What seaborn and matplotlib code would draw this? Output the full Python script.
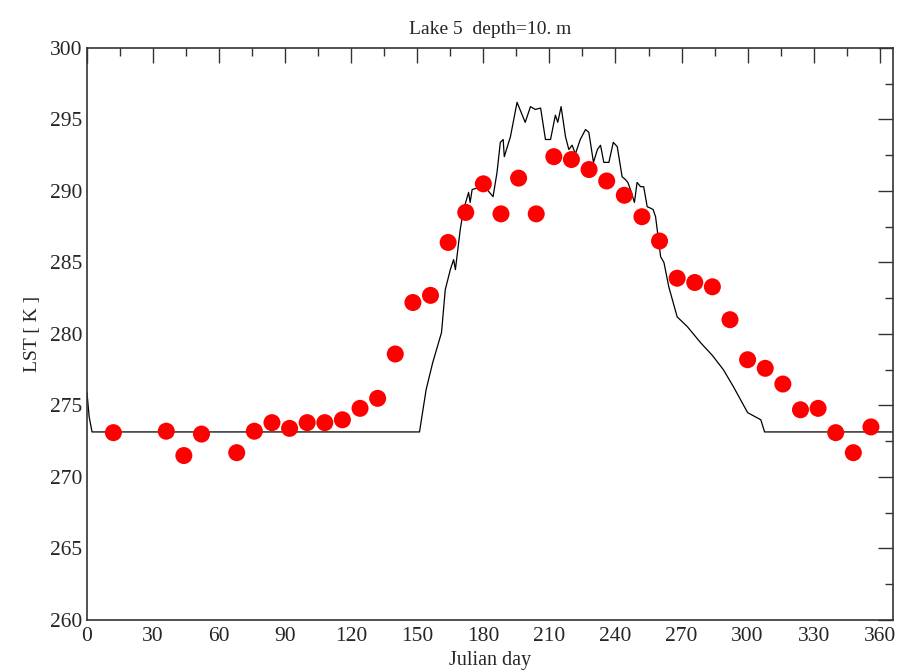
import numpy as np
import pandas as pd
import matplotlib
matplotlib.use("Agg")
import matplotlib.pyplot as plt
from matplotlib.ticker import MultipleLocator
import seaborn as sns

# observed lake surface temperature (red dots)
obs_day = [12, 36, 44, 52, 68, 76, 84, 92, 100, 108, 116, 124, 132, 140, 148, 156,
           164, 172, 180, 188, 196, 204, 212, 220, 228, 236, 244, 252, 260, 268,
           276, 284, 292, 300, 308, 316, 324, 332, 340, 348, 356]
obs_lst = [273.1, 273.2, 271.5, 273.0, 271.7, 273.2, 273.8, 273.4, 273.8, 273.8,
           274.0, 274.8, 275.5, 278.6, 282.2, 282.7, 286.4, 288.5, 290.5, 288.4,
           290.9, 288.4, 292.4, 292.2, 291.5, 290.7, 289.7, 288.2, 286.5, 283.9,
           283.6, 283.3, 281.0, 278.2, 277.6, 276.5, 274.7, 274.8, 273.1, 271.7, 273.5]

# modelled temperature (black line)
mod_day = [0, 1, 2.3, 151, 154, 157, 161, 162.7, 165, 166.5, 167.3, 169.5, 171,
           173.3, 174, 174.9, 177, 181.7, 184.4, 186.2, 187.7, 189, 189.5, 192.3,
           195.3, 199, 201.4, 203.6, 206, 208.2, 210.5, 212.7, 213.8, 215.3, 217.3,
           218.8, 220.3, 221.8, 224, 226.4, 227.9, 230, 231.8, 233.2, 234.7, 237,
           239, 240.8, 243, 244.5, 245.6, 246.8, 248.6, 249.8, 251.4, 252.8, 254.4,
           255.9, 257.1, 258.2, 260.5, 262, 264.2, 268, 272.7, 278.6, 284, 289,
           293.6, 300, 306, 307.7, 366]
mod_lst = [275.9, 274.2, 273.15, 273.15, 276.1, 278.0, 280.1, 283.1, 284.5, 285.2,
           284.5, 287.3, 288.7, 289.9, 289.2, 290.1, 290.2, 290.1, 289.6, 291.3,
           293.4, 293.6, 292.4, 293.8, 296.2, 294.8, 295.9, 295.7, 295.8, 293.6,
           293.6, 295.3, 294.8, 295.9, 293.8, 292.9, 293.2, 292.6, 293.6, 294.3,
           294.1, 292.0, 292.9, 293.2, 292.0, 292.0, 293.4, 293.1, 291.0, 290.8,
           290.6, 290.1, 289.2, 290.6, 290.3, 290.3, 288.9, 288.8, 288.7, 288.2,
           285.4, 285.0, 283.3, 281.2, 280.5, 279.4, 278.5, 277.5, 276.3, 274.5,
           274.0, 273.15, 273.15]

sns.set_style("white")
plt.rcParams['font.family'] = ['Liberation Serif', 'DejaVu Serif']

fig = plt.figure(figsize=(9.05, 6.72), dpi=100)
ax = fig.add_axes([0.0961, 0.0774, 0.8906, 0.8512])

sns.lineplot(x=mod_day, y=mod_lst, ax=ax, color='black', linewidth=0.9,
             estimator=None, sort=False)
sns.scatterplot(x=obs_day, y=obs_lst, ax=ax, color='#ff0000', s=150,
                edgecolor='none', zorder=3)

ax.set_xlim(0, 366)
ax.set_ylim(260, 300)
ax.xaxis.set_major_locator(MultipleLocator(30))
ax.xaxis.set_minor_locator(MultipleLocator(15))
ax.yaxis.set_major_locator(MultipleLocator(5))
ax.yaxis.set_minor_locator(MultipleLocator(2.5))
ax.tick_params(which='both', direction='in', top=True, right=True,
               labelsize=15.5, width=1, color='#333333')
ax.tick_params(which='major', length=11)
ax.tick_params(which='minor', length=5.5)
ax.tick_params(axis='x', pad=5)
for sp in ax.spines.values():
    sp.set_color('#333333')
    sp.set_linewidth(1.2)

ax.set_xlabel('Julian day', fontsize=14.5, labelpad=4)
ax.set_ylabel('LST [ K ]', fontsize=14, labelpad=6)
ax.set_title('Lake 5  depth=10. m', fontsize=14, pad=10)

plt.savefig('out.png', dpi=100)
plt.close('all')
